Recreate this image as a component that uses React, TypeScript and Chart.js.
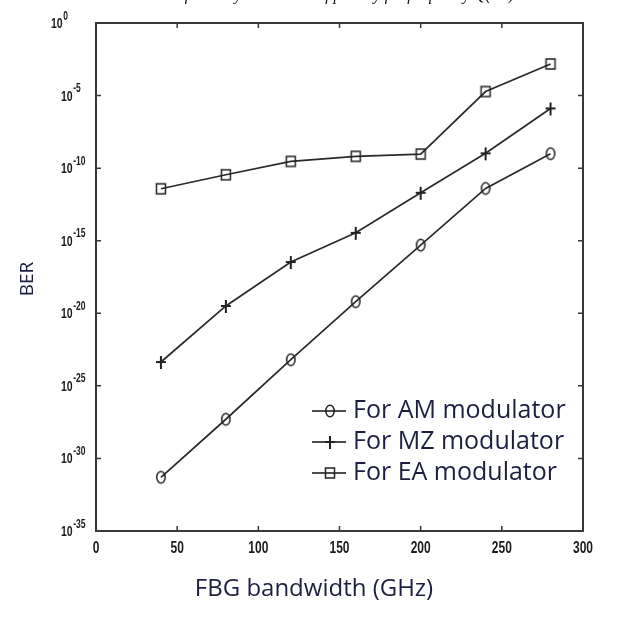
import React, { useEffect, useRef } from 'react';
import { Chart, registerables } from 'chart.js';

Chart.register(...registerables);

const bandwidthGHz = [40, 80, 120, 160, 200, 240, 280];
const berAM = [5.0e-32, 5.0e-28, 6.3e-24, 6.3e-20, 5.0e-16, 4.0e-12, 1.0e-9];
const berMZ = [4.4e-24, 3.2e-20, 3.4e-17, 3.5e-15, 2.0e-12, 1.05e-9, 1.3e-6];
const berEA = [3.8e-12, 3.5e-11, 2.9e-10, 6.5e-10, 9.3e-10, 1.9e-5, 1.5e-3];
const seriesLabels = ['For AM modulator', 'For MZ modulator', 'For EA modulator'];
const xTicks = [0, 50, 100, 150, 200, 250, 300];
const yTickExponents = [0, -5, -10, -15, -20, -25, -30, -35];
const xTitle = 'FBG bandwidth (GHz)';
const yTitle = 'BER';
const caption = 'Variation of BER by bandwidth of penalty for frequency Q(dB)';

const LINE = '#2a2a2a';
const TEXT = '#1c1f3f';

function makeMarker(kind: string): HTMLCanvasElement {
  const c = document.createElement('canvas');
  c.width = 14;
  c.height = 16;
  const g = c.getContext('2d')!;
  g.strokeStyle = '#222';
  g.lineWidth = 1.5;
  if (kind === 'ellipse') {
    g.beginPath();
    g.ellipse(7, 8, 4.2, 5.8, 0, 0, Math.PI * 2);
    g.stroke();
  } else if (kind === 'plus') {
    g.lineWidth = 2;
    g.beginPath();
    g.moveTo(2, 8);
    g.lineTo(12, 8);
    g.moveTo(7, 2);
    g.lineTo(7, 15);
    g.stroke();
  } else {
    g.strokeRect(2.5, 3, 9, 10);
  }
  return c;
}

export default function App() {
  const ref = useRef<HTMLCanvasElement>(null);
  useEffect(() => {
    const markers = [makeMarker('ellipse'), makeMarker('plus'), makeMarker('square')];
    const series = [berAM, berMZ, berEA];

    const decor = {
      id: 'decor',
      afterDraw(chart: any) {
        const ctx = chart.ctx as CanvasRenderingContext2D;
        const ca = chart.chartArea;
        const xs = chart.scales.x;
        const ys = chart.scales.y;
        ctx.save();
        // frame
        ctx.strokeStyle = '#383838';
        ctx.lineWidth = 2;
        ctx.strokeRect(ca.left, ca.top, ca.right - ca.left, ca.bottom - ca.top);
        // ticks
        ctx.lineWidth = 1.5;
        ctx.beginPath();
        xTicks.forEach((v) => {
          const px = xs.getPixelForValue(v);
          if (v === xs.min || v === xs.max) return;
          ctx.moveTo(px, ca.bottom);
          ctx.lineTo(px, ca.bottom - 5);
          ctx.moveTo(px, ca.top);
          ctx.lineTo(px, ca.top + 5);
        });
        yTickExponents.forEach((e) => {
          const py = ys.getPixelForValue(Math.pow(10, e));
          if (e === 0 || e === -35) return;
          ctx.moveTo(ca.left, py);
          ctx.lineTo(ca.left + 5, py);
          ctx.moveTo(ca.right, py);
          ctx.lineTo(ca.right - 5, py);
        });
        ctx.stroke();

        // x tick labels
        ctx.fillStyle = '#1a1a1a';
        ctx.textAlign = 'center';
        ctx.textBaseline = 'middle';
        xTicks.forEach((v) => {
          const px = xs.getPixelForValue(v);
          ctx.save();
          ctx.translate(px, ca.bottom + 17);
          ctx.scale(1, 1.4);
          ctx.font = 'bold 12px "Liberation Sans", Arial, sans-serif';
          ctx.fillText(String(v), 0, 0);
          ctx.restore();
        });

        // y tick labels 10^e
        yTickExponents.forEach((e) => {
          const py = ys.getPixelForValue(Math.pow(10, e));
          const baseX = e === 0 ? ca.left - 45 : ca.left - 35;
          ctx.save();
          ctx.translate(baseX, py + 1);
          ctx.scale(1, 1.4);
          ctx.textAlign = 'left';
          ctx.font = 'bold 10.5px "Liberation Sans", Arial, sans-serif';
          ctx.fillText('10', 0, 0);
          const w = ctx.measureText('10').width;
          ctx.font = 'bold 8.5px "Liberation Sans", Arial, sans-serif';
          ctx.fillText(String(e), w + 0.5, -5.5);
          ctx.restore();
        });

        // axis titles
        ctx.fillStyle = TEXT;
        ctx.font = '24px "Open Sans", sans-serif';
        ctx.textAlign = 'center';
        ctx.textBaseline = 'middle';
        ctx.fillText(xTitle, ca.left + 218, ca.bottom + 58);
        ctx.save();
        ctx.translate(28, (ca.top + ca.bottom) / 2 + 2);
        ctx.rotate(-Math.PI / 2);
        ctx.font = '19px "Open Sans", sans-serif';
        ctx.fillText(yTitle, 0, 0);
        ctx.restore();

        // legend
        ctx.textAlign = 'left';
        ctx.font = '25px "Open Sans", sans-serif';
        seriesLabels.forEach((lab, i) => {
          const y = ca.bottom - 120 + i * 31;
          const lx0 = ca.right - 271;
          const lx1 = ca.right - 237;
          const mx = ca.right - 253;
          ctx.strokeStyle = '#111';
          ctx.lineWidth = 1.5;
          ctx.beginPath();
          ctx.moveTo(lx0, y);
          ctx.lineTo(lx1, y);
          ctx.stroke();
          const m = markers[i];
          ctx.drawImage(m, mx - m.width / 2, y - m.height / 2);
          ctx.fillStyle = TEXT;
          ctx.fillText(lab, ca.right - 230, y);
        });
        ctx.restore();
      },
    };

    const chart = new Chart(ref.current!, {
      type: 'line',
      data: {
        datasets: series.map((s, i) => ({
          label: seriesLabels[i],
          data: bandwidthGHz.map((x, j) => ({ x, y: s[j] })),
          borderColor: LINE,
          borderWidth: 1.7,
          pointStyle: markers[i] as any,
          pointRadius: 5,
          fill: false,
          tension: 0,
        })),
      },
      options: {
        responsive: false,
        animation: false,
        events: [],
        layout: { padding: { top: 23, right: 44, left: 0, bottom: 0 } },
        plugins: { legend: { display: false }, tooltip: { enabled: false }, title: { display: false } },
        scales: {
          x: {
            type: 'linear',
            min: 0,
            max: 300,
            grid: { display: false },
            border: { display: false },
            ticks: { display: false },
            afterFit: (s: any) => { s.height = 88; },
          },
          y: {
            type: 'logarithmic',
            min: 1e-35,
            max: 1,
            grid: { display: false },
            border: { display: false },
            ticks: { display: false },
            afterFit: (s: any) => { s.width = 96; },
          },
        },
      },
      plugins: [decor],
    });
    return () => chart.destroy();
  }, []);

  return (
    <div style={{ position: 'absolute', left: 0, top: 0, width: 627, height: 619, background: '#fff', overflow: 'hidden' }}>
      <div
        style={{
          position: 'absolute',
          top: -14,
          left: 0,
          width: 627,
          textAlign: 'center',
          font: 'italic 16px "Liberation Serif", serif',
          color: '#111',
          whiteSpace: 'nowrap',
        }}
      >
        {caption}
      </div>
      <canvas ref={ref} width={627} height={619} style={{ display: 'block' }} />
    </div>
  );
}
